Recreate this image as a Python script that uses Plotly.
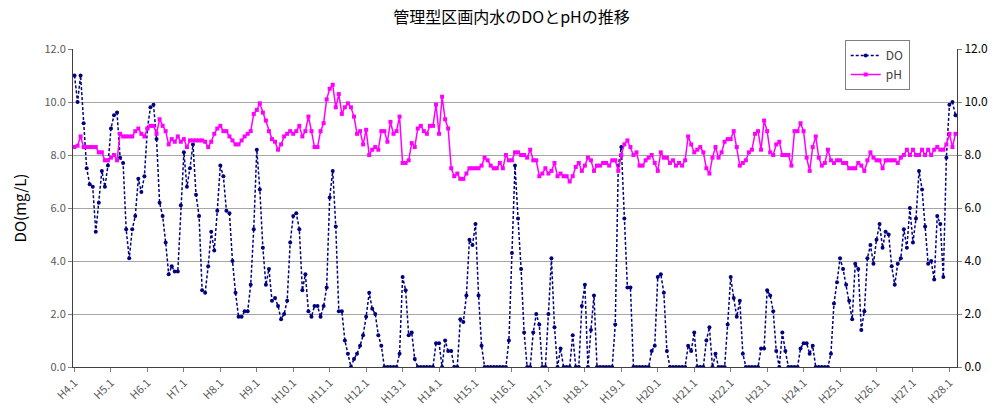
import plotly.graph_objects as go

# Monthly observations, H4.1 through H28.3
do_values = [
    11.0, 10.0, 11.0, 9.2, 7.5, 6.9, 6.8, 5.1, 6.2, 7.4, 6.8, 7.6,
    9.0, 9.5, 9.6, 7.9, 7.7, 5.2, 4.1, 5.2, 5.7, 7.1, 6.6, 7.2,
    9.0, 9.8, 9.9, 8.6, 6.2, 5.7, 4.7, 3.5, 3.8, 3.6, 3.6, 6.1,
    8.1, 6.8, 7.5, 8.4, 6.5, 5.7, 2.9, 2.8, 3.8, 5.1, 4.4, 5.9,
    7.6, 7.2, 5.9, 5.8, 4.0, 2.8, 1.9, 1.9, 2.1, 2.1, 3.1, 5.2,
    8.2, 6.7, 4.5, 3.1, 3.7, 2.5, 2.6, 2.3, 1.8, 2.0, 2.5, 4.7,
    5.7, 5.8, 5.2, 2.9, 3.5, 2.1, 1.9, 2.3, 2.3, 1.9, 2.3, 3.0,
    6.4, 7.4, 5.3, 2.1, 2.1, 1.0, 0.5, 0.0, 0.3, 0.5, 0.8, 1.2,
    1.9, 2.8, 2.2, 2.0, 1.2, 0.8, 0.0, 0.0, 0.0, 0.0, 0.0, 0.5,
    3.4, 2.9, 1.2, 1.3, 0.3, 0.0, 0.0, 0.0, 0.0, 0.0, 0.0, 0.9,
    0.9, 0.0, 1.0, 0.6, 0.6, 0.0, 0.0, 1.8, 1.7, 2.7, 4.8, 4.6,
    5.4, 2.7, 0.8, 0.0, 0.0, 0.0, 0.0, 0.0, 0.0, 0.0, 0.0, 1.0,
    4.3, 7.6, 5.6, 3.7, 1.3, 0.0, 0.0, 1.3, 2.0, 1.6, 0.0, 0.0,
    2.0, 4.1, 1.5, 0.0, 0.7, 0.0, 0.0, 0.0, 1.2, 0.0, 0.0, 2.3,
    3.1, 0.0, 1.4, 2.7, 0.0, 0.0, 0.0, 0.0, 0.0, 0.0, 1.6, 7.6,
    8.3, 5.6, 3.0, 3.0, 0.0, 0.0, 0.0, 0.0, 0.0, 0.0, 0.6, 0.8,
    3.4, 3.5, 2.8, 0.6, 0.0, 0.0, 0.0, 0.0, 0.0, 0.0, 0.8, 0.6,
    1.3, 0.0, 0.0, 0.0, 1.0, 1.5, 0.0, 0.5, 0.0, 0.0, 0.0, 1.6,
    3.4, 2.6, 1.9, 2.5, 0.5, 0.0, 0.0, 0.0, 0.0, 0.0, 0.7, 0.7,
    2.9, 2.7, 2.1, 0.6, 0.0, 1.3, 0.6, 0.0, 0.0, 0.0, 0.0, 0.7,
    0.9, 0.9, 0.5, 0.8, 0.0, 0.0, 0.0, 0.0, 0.0, 0.5, 2.4, 3.2,
    4.1, 3.7, 3.1, 2.5, 1.8, 3.9, 3.7, 1.4, 2.1, 4.1, 4.6, 3.9,
    4.8, 5.4, 4.5, 5.1, 5.0, 3.8, 3.1, 3.9, 4.1, 5.2, 4.5, 6.0,
    4.7, 5.6, 7.4, 6.7, 5.3, 3.9, 4.0, 3.3, 5.7, 5.4, 3.4, 7.9,
    9.9, 10.0, 9.5,
]

ph_values = [
    8.3, 8.35, 8.7, 8.3, 8.3, 8.3, 8.3, 8.3, 8.1, 8.1, 7.8, 7.8,
    7.9, 8.0, 7.8, 8.8, 8.7, 8.7, 8.7, 8.7, 8.9, 9.0, 8.8, 8.7,
    9.0, 9.1, 9.1, 8.8, 9.35, 9.1, 8.9, 8.4, 8.6, 8.5, 8.7, 8.5,
    8.6, 8.3, 8.55, 8.55, 8.55, 8.55, 8.55, 8.5, 8.3, 8.5, 8.8, 9.0,
    9.1, 8.9, 8.9, 8.7, 8.55, 8.4, 8.4, 8.55, 8.7, 8.8, 8.9, 9.55,
    9.7, 9.95, 9.6, 9.3, 8.9, 8.6, 8.5, 8.2, 8.4, 8.7, 8.8, 8.9,
    8.8, 8.9, 9.1, 8.7, 8.9, 9.45, 8.9, 8.3, 8.3, 8.9, 9.2, 10.1,
    10.5, 10.65, 9.8, 10.3, 9.55, 9.8, 9.95, 9.8, 9.45, 8.8, 8.9, 8.4,
    8.95, 8.0, 8.2, 8.3, 8.2, 8.9, 8.9, 8.5, 9.25, 8.8, 8.9, 9.45,
    7.7, 7.7, 7.8, 8.45, 8.3, 9.0, 9.1, 8.9, 8.8, 9.1, 9.1, 9.9,
    8.8, 10.2, 9.35, 9.0, 7.5, 7.2, 7.3, 7.1, 7.1, 7.3, 7.5, 7.5,
    7.5, 7.5, 7.6, 7.9, 7.8, 7.6, 7.5, 7.5, 7.7, 7.5, 8.0, 7.8,
    7.8, 8.1, 8.1, 8.0, 8.0, 7.9, 8.2, 7.8, 7.8, 7.2, 7.3, 7.5,
    7.3, 7.4, 7.7, 7.2, 7.3, 7.2, 7.2, 7.0, 7.2, 7.55, 7.7, 7.4,
    7.6, 7.9, 7.8, 7.4, 7.6, 7.6, 7.7, 7.7, 7.6, 7.8, 7.8, 7.4,
    8.0, 8.4, 8.55, 8.3, 8.0, 8.1, 7.6, 7.6, 7.8, 7.9, 8.0, 7.7,
    7.4, 8.1, 7.9, 7.9, 7.7, 7.8, 7.6, 7.7, 7.6, 7.8, 8.7, 8.4,
    8.1, 8.2, 8.3, 8.1, 7.5, 7.3, 7.9, 8.3, 7.9, 8.1, 8.5, 8.6,
    8.6, 8.9, 8.3, 7.6, 7.7, 7.8, 8.1, 8.2, 8.8, 8.9, 8.2, 9.3,
    8.9, 8.1, 8.0, 8.4, 8.5, 8.0, 8.0, 8.0, 7.6, 8.9, 8.9, 9.2,
    8.9, 7.9, 7.4, 8.3, 8.7, 7.9, 7.6, 7.7, 8.2, 7.8, 7.7, 7.8,
    7.8, 7.7, 7.7, 7.5, 7.5, 7.5, 7.7, 7.6, 7.4, 7.8, 8.1, 7.9,
    7.8, 7.8, 7.5, 7.8, 7.8, 7.8, 7.8, 7.7, 7.9, 8.0, 8.2, 8.0,
    8.2, 8.0, 8.0, 8.2, 8.0, 8.2, 8.0, 8.2, 8.3, 8.2, 8.2, 8.4,
    8.8, 8.3, 8.8,
]

# Year labels shown on the horizontal axis (one per January)
year_labels = [
    "H4.1", "H5.1", "H6.1", "H7.1", "H8.1", "H9.1", "H10.1", "H11.1",
    "H12.1", "H13.1", "H14.1", "H15.1", "H16.1", "H17.1", "H18.1", "H19.1",
    "H20.1", "H21.1", "H22.1", "H23.1", "H24.1", "H25.1", "H26.1", "H27.1",
    "H28.1",
]
first_year = 4

# Month category labels (Heisei year.month)
months = [f"H{first_year + k // 12}.{k % 12 + 1}" for k in range(len(do_values))]

y_ticks = [0, 2, 4, 6, 8, 10, 12]

FONT = "Noto Sans CJK JP"
TICK_COLOR = "#595959"

fig = go.Figure()

fig.add_trace(go.Scatter(
    x=months, y=do_values, name="DO", mode="lines+markers",
    line=dict(color="#000080", width=1.5, dash="3px,2px"),
    marker=dict(symbol="circle", size=4, color="#000080"),
    yaxis="y",
))

fig.add_trace(go.Scatter(
    x=months, y=ph_values, name="pH", mode="lines+markers",
    line=dict(color="#FF00FF", width=1.5),
    marker=dict(symbol="square", size=4, color="#FF00FF"),
    yaxis="y2",
))

fig.update_layout(
    width=1001, height=410,
    margin=dict(l=73, r=44, t=49, b=43, autoexpand=False),
    paper_bgcolor="white", plot_bgcolor="white",
    font=dict(family=FONT, size=11, color=TICK_COLOR),
    title=dict(
        text="管理型区画内水のDOとpHの推移",
        x=0.511, xanchor="center", y=0.958, yanchor="middle",
        font=dict(family=FONT, size=16, color="#000000"),
    ),
    xaxis=dict(
        type="category",
        categoryorder="array", categoryarray=months,
        range=[-0.5, len(months) - 0.5],
        tickmode="array",
        tickvals=[months[k * 12] for k in range(len(year_labels))],
        ticktext=year_labels,
        tickangle=-45,
        ticks="outside", ticklen=4, tickcolor="#808080",
        showline=True, linecolor="#404040", linewidth=1,
        showgrid=False, zeroline=False,
        tickfont=dict(family=FONT, size=11, color=TICK_COLOR),
        automargin=False,
    ),
    yaxis=dict(
        range=[0, 12], tickvals=y_ticks, tickformat=".1f",
        ticks="outside", ticklen=4, tickcolor="#808080",
        showline=True, linecolor="#404040", linewidth=1,
        showgrid=True, gridcolor="#A6A6A6", gridwidth=1,
        zeroline=False,
        title=dict(text="DO(mg/L)", standoff=14,
                   font=dict(family=FONT, size=15, color="#000000")),
        tickfont=dict(family=FONT, size=11, color=TICK_COLOR),
        automargin=False,
    ),
    yaxis2=dict(
        range=[0, 12], tickvals=y_ticks, tickformat=".1f",
        overlaying="y", side="right",
        ticks="outside", ticklen=4, tickcolor="#808080",
        showline=True, linecolor="#404040", linewidth=1,
        showgrid=False, zeroline=False,
        tickfont=dict(family=FONT, size=12, color="#000000"),
        automargin=False,
    ),
    legend=dict(
        x=0.873, xanchor="left", y=1.028, yanchor="top",
        bgcolor="white", bordercolor="#808080", borderwidth=1,
        font=dict(family=FONT, size=12, color="#404040"),
        tracegroupgap=2,
    ),
    showlegend=True,
)

fig.write_html("out.html")
